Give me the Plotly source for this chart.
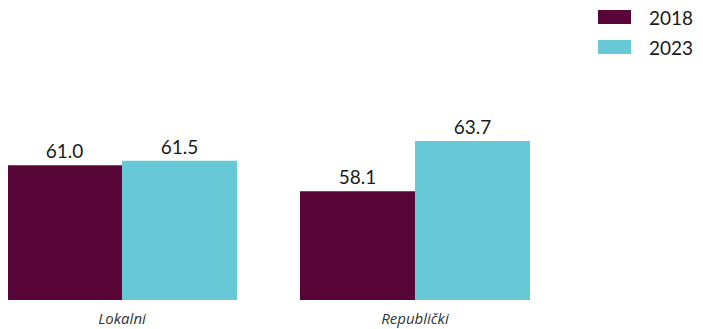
import plotly.graph_objects as go

categories = ["Lokalni", "Republički"]
values_2018 = [61.0, 58.1]
values_2023 = [61.5, 63.7]
series_names = ["2018", "2023"]

colors = {"2018": "#580637", "2023": "#68C9D6"}
font_family = "Lato, 'Open Sans', sans-serif"

W, H = 703, 329
M = dict(l=0, r=8, t=40, b=37)
plot_w = W - M["l"] - M["r"]
plot_h = H - M["t"] - M["b"]


def px_to_paper_x(px):
    return (px - M["l"]) / plot_w


def px_to_paper_y(py):
    return (H - M["b"] - py) / plot_h


fig = go.Figure()
for name, vals in zip(series_names, [values_2018, values_2023]):
    fig.add_trace(go.Bar(
        x=categories, y=vals, name=name,
        marker=dict(color=colors[name], line=dict(width=0)),
        texttemplate="%{y:.1f}", textposition="outside",
        textfont=dict(size=19, color="#1a1a1a", family=font_family),
        cliponaxis=False, showlegend=False,
    ))

# Legend drawn as swatches + labels (wide rectangular swatches as in the reference)
for i, name in enumerate(series_names):
    top = 2 + 30 * i
    fig.add_shape(
        type="rect", xref="paper", yref="paper",
        x0=px_to_paper_x(590), x1=px_to_paper_x(623),
        y0=px_to_paper_y(top), y1=px_to_paper_y(top + 14),
        fillcolor=colors[name], line=dict(width=0),
    )
    fig.add_annotation(
        text=name, xref="paper", yref="paper",
        x=px_to_paper_x(640), y=px_to_paper_y(top + 7),
        xanchor="left", yanchor="middle", showarrow=False,
        font=dict(size=19, color="#1a1a1a", family=font_family),
        borderpad=0,
    )

fig.update_layout(
    width=W, height=H,
    margin=dict(**M, autoexpand=False),
    paper_bgcolor="white", plot_bgcolor="white",
    barmode="group", bargap=0.215, bargroupgap=0,
    font=dict(family=font_family, color="#1a1a1a"),
    showlegend=False,
    xaxis=dict(range=[-0.389, 1.983], showgrid=False, showline=False, zeroline=False,
               ticks="", tickfont=dict(size=15, color="#333333", family="'Open Sans', sans-serif", style="italic"),
               ticklabelstandoff=8),
    yaxis=dict(range=[46, 74.06], visible=False, showgrid=False, zeroline=False),
)

fig.write_html("out.html")
